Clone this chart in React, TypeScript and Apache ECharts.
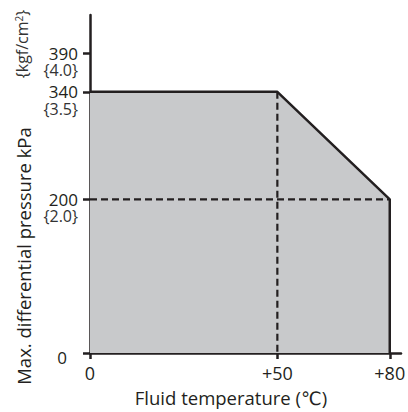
import React, { useEffect, useRef } from 'react';
import * as echarts from 'echarts';

// Data
const xTicks = [0, 50, 80];
const yTicks = [0, 200, 340, 390];
const yKgfTicks = [200, 340, 390];
const yKgfLabels = ['{2.0}', '{3.5}', '{4.0}'];
const limitTemp = [0, 50, 80, 80];
const limitPressure = [340, 340, 200, 0];
const guideVTemp = [50, 50];
const guideVPressure = [340, 0];
const guideHTemp = [0, 80];
const guideHPressure = [200, 200];

const INK = '#231f20';
const SUB = '#333333';
const FILL = '#c8c9cb';
const FONT = '"Open Sans", "DejaVu Sans", sans-serif';

const zip = (a: number[], b: number[]) => a.map((v, i) => [v, b[i]]);

export default function App() {
  const ref = useRef<HTMLDivElement>(null);
  useEffect(() => {
    document.body.style.margin = '0';
    const chart = echarts.init(ref.current!, undefined, { renderer: 'svg' });
    chart.setOption({
      animation: false,
      backgroundColor: '#ffffff',
      grid: { left: 90, right: 7, top: 15, bottom: 59, containLabel: false, outerBoundsMode: 'none' },
      xAxis: {
        type: 'value',
        min: 0,
        max: 83,
        splitLine: { show: false },
        axisLine: { show: true, onZero: false, lineStyle: { color: INK, width: 2.5 } },
        axisTick: { show: true, customValues: xTicks, length: 6, lineStyle: { color: INK, width: 2.5 } },
        axisLabel: {
          customValues: xTicks,
          margin: 11,
          fontSize: 18,
          fontFamily: FONT,
          color: INK,
          showMinLabel: true,
          showMaxLabel: true,
          formatter: (v: number) => (v === 0 ? '0' : '+' + v),
        },
      },
      yAxis: [
        {
          type: 'value',
          min: 0,
          max: 440,
          position: 'left',
          splitLine: { show: false },
          axisLine: { show: true, onZero: false, lineStyle: { color: INK, width: 2.5 } },
          axisTick: { show: true, customValues: yTicks, length: 7, lineStyle: { color: INK, width: 2.5 } },
          axisLabel: {
            customValues: yTicks,
            margin: 12,
            fontSize: 17,
            fontFamily: FONT,
            color: INK,
            align: 'right',
            showMinLabel: true,
            showMaxLabel: true,
            formatter: (v: number) => (v === 0 ? '{z|0}' : String(v)),
            rich: {
              z: { fontSize: 17, lineHeight: 26, fontFamily: FONT, color: INK, padding: [0, 11, 0, 0], verticalAlign: 'bottom' },
            },
          },
        },
        {
          type: 'value',
          min: 0,
          max: 440,
          position: 'left',
          offset: 0,
          splitLine: { show: false },
          axisLine: { show: false },
          axisTick: { show: false },
          axisLabel: {
            customValues: yKgfTicks,
            margin: 12,
            fontSize: 16,
            lineHeight: 34,
            verticalAlign: 'top',
            fontFamily: FONT,
            color: SUB,
            align: 'right',
            showMinLabel: true,
            showMaxLabel: true,
            formatter: (v: number) => yKgfLabels[yKgfTicks.indexOf(v)] ?? '',
          },
        },
      ],
      graphic: [
        {
          type: 'text',
          x: 22,
          y: 44,
          rotation: Math.PI / 2,
          style: {
            text: '{kgf/cm{sup|2}}',
            fontSize: 16,
            fontFamily: FONT,
            fill: SUB,
            align: 'center',
            verticalAlign: 'middle',
            rich: { sup: { fontSize: 10, verticalAlign: 'top', fontFamily: FONT, fill: SUB } },
          },
        },
        {
          type: 'text',
          x: 23,
          y: 256,
          rotation: Math.PI / 2,
          style: {
            text: 'Max. differential pressure kPa',
            fontSize: 18.5,
            fontFamily: FONT,
            fill: INK,
            align: 'center',
            verticalAlign: 'middle',
          },
        },
        {
          type: 'text',
          x: 231,
          y: 397,
          style: {
            text: 'Fluid temperature (℃)',
            fontSize: 18.5,
            fontFamily: FONT,
            fill: INK,
            align: 'center',
            verticalAlign: 'middle',
          },
        },
      ],
      series: [
        {
          type: 'line',
          data: zip(limitTemp, limitPressure),
          symbol: 'none',
          lineStyle: { width: 0 },
          areaStyle: { color: FILL, opacity: 1 },
          z: 1,
        },
        {
          type: 'line',
          data: zip(guideVTemp, guideVPressure),
          symbol: 'none',
          lineStyle: { color: INK, width: 2.2, type: [7, 4] },
          z: 2,
        },
        {
          type: 'line',
          data: zip(guideHTemp, guideHPressure),
          symbol: 'none',
          lineStyle: { color: INK, width: 2.2, type: [7, 4] },
          z: 2,
        },
        {
          type: 'line',
          data: zip(limitTemp, limitPressure),
          symbol: 'none',
          lineStyle: { color: INK, width: 2.5 },
          z: 3,
        },
      ],
    });
    return () => chart.dispose();
  }, []);
  return <div ref={ref} style={{ width: 408, height: 412 }} />;
}
